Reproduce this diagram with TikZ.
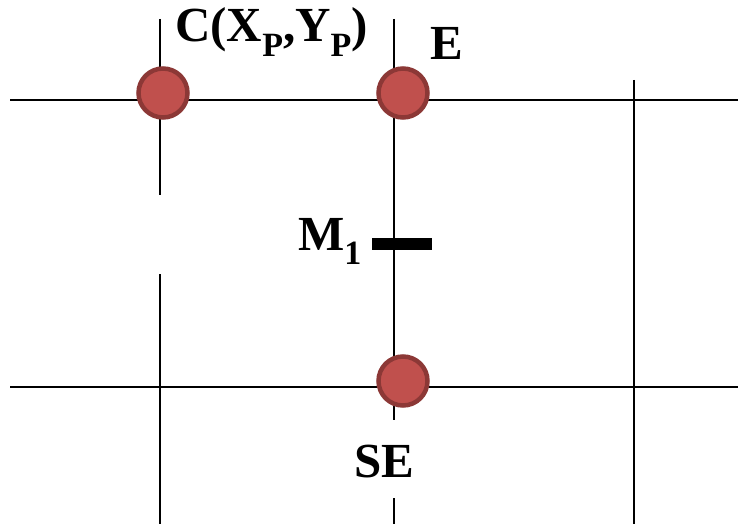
\documentclass[tikz,border=0pt]{standalone}
\usepackage{fontspec}
\setmainfont{Liberation Serif}
\definecolor{dotfill}{HTML}{C0504D}
\definecolor{dotline}{HTML}{8C3836}
\tikzset{
  grid/.style={line width=2.6pt, black},
  dot/.style={circle, fill=dotfill, draw=dotline, line width=4.5pt, minimum size=49pt, inner sep=0pt},
  lbl/.style={inner sep=0pt, font=\fontsize{49}{49}\selectfont\bfseries},
}
\newcommand{\subP}[1]{\raisebox{-0.3em}{\fontsize{34}{34}\selectfont #1}}
\begin{document}
\begin{tikzpicture}[x=1pt,y=-1pt]
\useasboundingbox (0,0) rectangle (738,524);
% grid lines
\coordinate (h1a) at (10,100); \coordinate (h1b) at (738,100);
\coordinate (h2a) at (10,387); \coordinate (h2b) at (738,387);
\coordinate (v1a) at (160,19); \coordinate (v1b) at (160,195);
\coordinate (v1c) at (160,274); \coordinate (v1d) at (160,524);
\coordinate (v2a) at (394,19); \coordinate (v2b) at (394,420);
\coordinate (v2c) at (394,498); \coordinate (v2d) at (394,524);
\coordinate (v3a) at (634,80); \coordinate (v3b) at (634,524);
\draw[grid] (h1a) -- (h1b);
\draw[grid] (h2a) -- (h2b);
\draw[grid] (v1a) -- (v1b);
\draw[grid] (v1c) -- (v1d);
\draw[grid] (v2a) -- (v2b);
\draw[grid] (v2c) -- (v2d);
\draw[grid] (v3a) -- (v3b);
% midpoint marker
\coordinate (m1a) at (372,244); \coordinate (m1b) at (432,244);
\draw[line width=12pt, black] (m1a) -- (m1b);
% pixels
\node[dot] (C) at (163,93) {};
\node[dot] (E) at (403,93) {};
\node[dot] (SE) at (403,381) {};
% labels
\node[lbl, anchor=base west] (Clbl) at (175,42) {C(X\subP{P},Y\subP{P})};
\node[lbl, anchor=base west] (Elbl) at (430,60) {E};
\node[lbl, anchor=base west] (SElbl) at (354,477) {SE};
\node[lbl, anchor=base west] (Mlbl) at (298,250) {M\subP{1}};
\end{tikzpicture}
\end{document}
